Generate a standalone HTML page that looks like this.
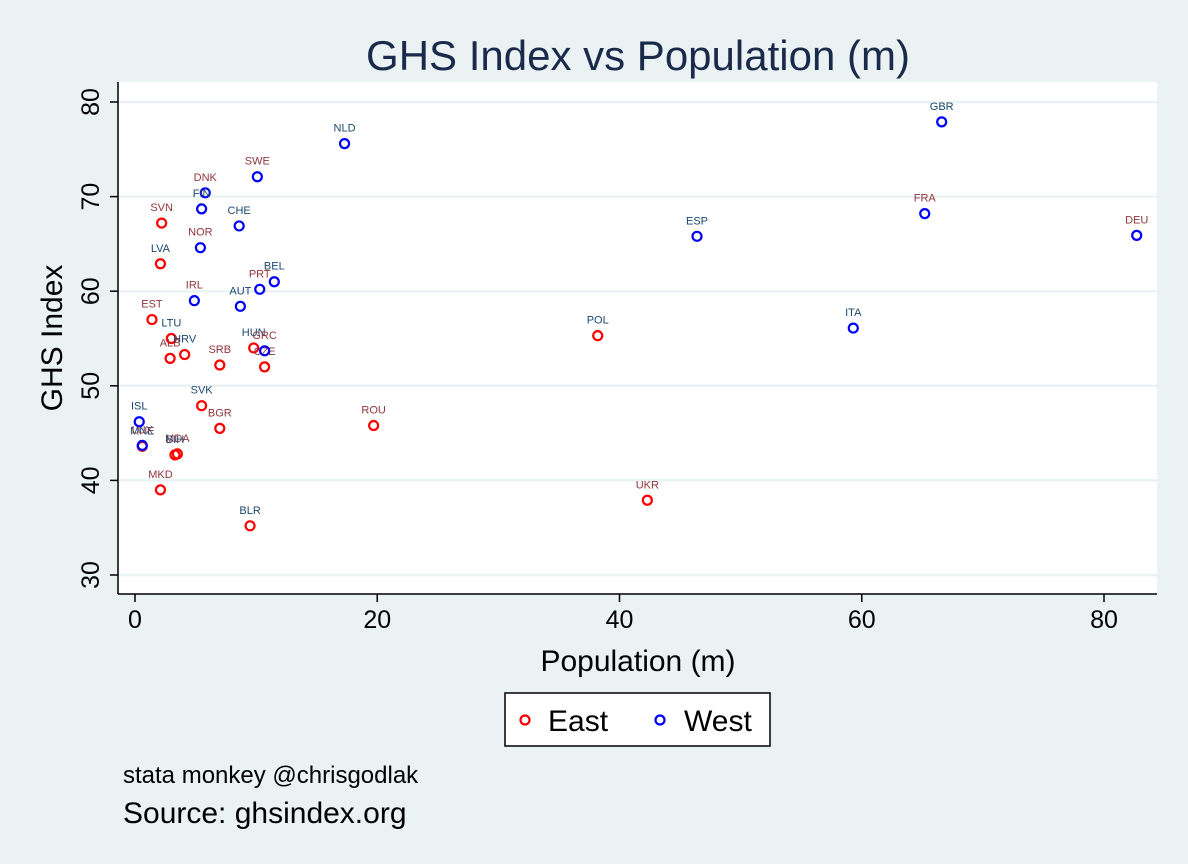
<!DOCTYPE html>
<html><head><meta charset="utf-8"><style>
html,body{margin:0;padding:0;background:#eaf2f3;}
svg{display:block;font-family:"Liberation Sans",Arial,sans-serif;}
</style></head><body>
<svg width="1188" height="864">
<rect x="0" y="0" width="1188" height="864" fill="#eaf2f3"/>
<text x="638" y="70" font-size="42" fill="#1a2a4a" text-anchor="middle">GHS Index vs Population (m)</text>
<rect x="118" y="82" width="1039" height="512" fill="#fff"/>
<g id="grid"></g>
<line x1="118" y1="82" x2="118" y2="594" stroke="#000" stroke-width="1.5"/>
<line x1="118" y1="594" x2="1157" y2="594" stroke="#000" stroke-width="1.5"/>
<g id="ticks"></g>
<g id="points"></g>
<text x="638" y="671" font-size="30" text-anchor="middle">Population (m)</text>
<text transform="translate(62,338) rotate(-90)" font-size="30" text-anchor="middle">GHS Index</text>
<g>
<rect x="505" y="693" width="265" height="53" fill="#fff" stroke="#000" stroke-width="1.5"/>
<circle cx="525" cy="720" r="4.5" fill="none" stroke="#f00" stroke-width="2.2"/>
<text x="548" y="731" font-size="30">East</text>
<circle cx="660" cy="720" r="4.5" fill="none" stroke="#00f" stroke-width="2.2"/>
<text x="684" y="731" font-size="30">West</text>
</g>
<text x="123" y="783" font-size="24">stata monkey @chrisgodlak</text>
<text x="123" y="823" font-size="30">Source: ghsindex.org</text>
</svg>
<script>
const xTicks=[0,20,40,60,80];
const yTicks=[30,40,50,60,70,80];
const eastNames=["SVN","LVA","EST","LTU","ALB","HRV","SRB","HUN","CZE","SVK","BGR","MNE","MDA","BIH","MKD","BLR","ROU","POL","UKR"];
const eastPop=[2.2,2.1,1.4,3.0,2.9,4.1,7.0,9.8,10.7,5.5,7.0,0.6,3.5,3.3,2.1,9.5,19.7,38.2,42.3];
const eastGhs=[67.2,62.9,57.0,55.0,52.9,53.3,52.2,54.0,52.0,47.9,45.5,43.6,42.8,42.7,39.0,35.2,45.8,55.3,37.9];
const westNames=["DNK","FIN","SWE","NLD","NOR","CHE","IRL","AUT","PRT","BEL","GRC","ISL","LUX","GBR","FRA","ESP","DEU","ITA"];
const westPop=[5.8,5.5,10.1,17.3,5.4,8.6,4.9,8.7,10.3,11.5,10.7,0.35,0.6,66.6,65.2,46.4,82.7,59.3];
const westGhs=[70.4,68.7,72.1,75.6,64.6,66.9,59.0,58.4,60.2,61.0,53.7,46.2,43.7,77.9,68.2,65.8,65.9,56.1];
const X=v=>135+v*12.1125, Y=v=>102+(80-v)*9.46;
const NS="http://www.w3.org/2000/svg";
function mk(t,a,p){const e=document.createElementNS(NS,t);for(const k in a)e.setAttribute(k,a[k]);p.appendChild(e);return e;}
const grid=document.getElementById('grid'),ticks=document.getElementById('ticks'),pts=document.getElementById('points');
yTicks.forEach(v=>{
 const g=mk('line',{x1:118,x2:1157,y1:Y(v),y2:Y(v),stroke:'#eaf2f3','stroke-width':2.5},grid);
 
 
 const t=mk('line',{x1:110,x2:118,y1:Y(v),y2:Y(v),stroke:'#000','stroke-width':1.5},ticks);
 
 
 const l=mk('text',{transform:`translate(99,${Y(v)}) rotate(-90)`,'font-size':25,'text-anchor':'middle'},ticks);
 l.textContent=v;
 
 
});
xTicks.forEach(v=>{
 const t=mk('line',{x1:X(v),x2:X(v),y1:594,y2:602,stroke:'#000','stroke-width':1.5},ticks);
 
 
 const l=mk('text',{x:X(v),y:628,'font-size':25,'text-anchor':'middle'},ticks);
 l.textContent=v;
 
 
});
function series(names,pop,ghs,col,grp){
 names.forEach((n,i)=>{
  const c=mk('circle',{cx:X(pop[i]),cy:Y(ghs[i]),r:4.5,fill:'none',stroke:col,'stroke-width':2.2},pts);
  
  
  const t=mk('text',{x:X(pop[i]),y:Y(ghs[i])-12,'font-size':11,'text-anchor':'middle',fill:i%2?'#1a476f':'#90353b'},pts);
  t.textContent=n;
  
  
 });
}
series(eastNames,eastPop,eastGhs,'#f00','east');
series(westNames,westPop,westGhs,'#00f','west');
</script>
</body></html>
